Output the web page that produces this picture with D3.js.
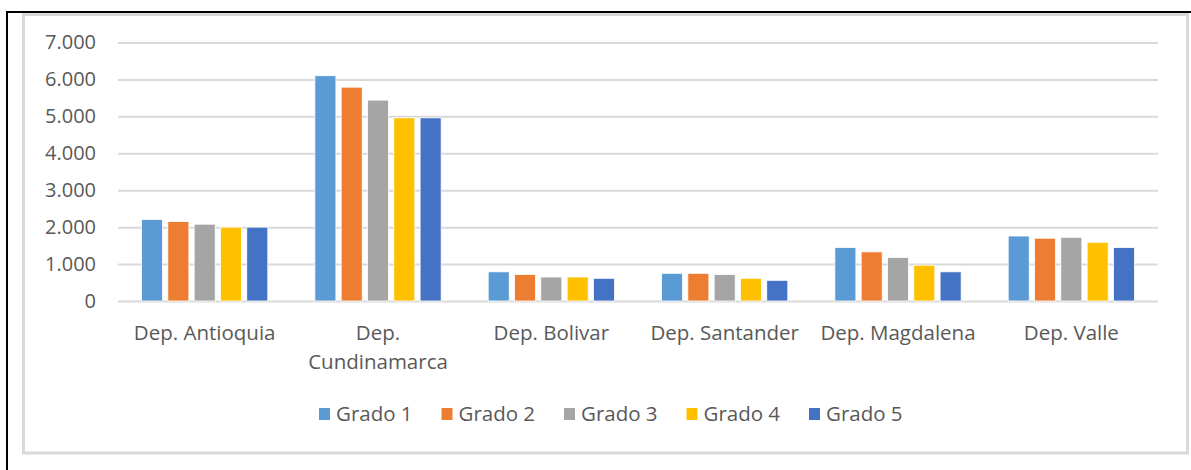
<!DOCTYPE html>
<html>
<head>
<meta charset="utf-8">
<script src="https://cdn.jsdelivr.net/npm/d3@7.9.0/dist/d3.min.js"></script>
<style>
  body { margin: 0; background: #fff; }
  svg { display: block; }
  text { font-family: "Open Sans", sans-serif; fill: #595959; }
</style>
</head>
<body>
<div id="chart"></div>
<script>
// departments and grade series
const departments = ['Dep. Antioquia', 'Dep. Cundinamarca', 'Dep. Bolivar', 'Dep. Santander', 'Dep. Magdalena', 'Dep. Valle'];
const grades = ['Grado 1', 'Grado 2', 'Grado 3', 'Grado 4', 'Grado 5'];
const grado1 = [2210, 6100, 790, 750, 1450, 1760];
const grado2 = [2150, 5790, 720, 750, 1330, 1700];
const grado3 = [2080, 5440, 650, 720, 1180, 1725];
const grado4 = [2000, 4960, 650, 615, 970, 1590];
const grado5 = [2000, 4960, 615, 560, 790, 1450];
const yTicks = [0, 1000, 2000, 3000, 4000, 5000, 6000, 7000];
const colors = ['#5B9BD5', '#ED7D31', '#A5A5A5', '#FFC000', '#4472C4'];

const seriesValues = [grado1, grado2, grado3, grado4, grado5];
const rows = departments.map((dep, i) => ({
  dep,
  values: grades.map((g, j) => ({ grade: g, value: seriesValues[j][i] }))
}));

const width = 1191, height = 470;
const plot = { left: 118, right: 1158, top: 42.5, bottom: 301 };

const svg = d3.select('#chart').append('svg')
  .attr('width', width)
  .attr('height', height);

// outer frame (black lines on top and left)
svg.append('line').attr('x1', 6).attr('x2', width).attr('y1', 12).attr('y2', 12)
  .attr('stroke', '#000').attr('stroke-width', 2);
svg.append('line').attr('x1', 7).attr('x2', 7).attr('y1', 11).attr('y2', height)
  .attr('stroke', '#000').attr('stroke-width', 2);

// chart area border
svg.append('rect')
  .attr('x', 23.5).attr('y', 14.5)
  .attr('width', 1187.5 - 23.5).attr('height', 453 - 14.5)
  .attr('fill', 'none').attr('stroke', '#D9D9D9').attr('stroke-width', 3);

const x0 = d3.scaleBand().domain(departments).range([plot.left, plot.right]).padding(0);
const groupW = x0.bandwidth();
const inner = 126.3;
const x1 = d3.scaleBand().domain(grades)
  .range([(groupW - inner) / 2, (groupW + inner) / 2])
  .paddingInner(0.2).paddingOuter(0);
const y = d3.scaleLinear().domain([0, 7000]).range([plot.bottom, plot.top]);
const color = d3.scaleOrdinal().domain(grades).range(colors);

// gridlines
svg.append('g')
  .attr('class', 'gridlines')
  .attr('transform', `translate(${plot.left},0)`)
  .call(d3.axisLeft(y).tickValues(yTicks).tickFormat('').tickSize(-(plot.right - plot.left)))
  .call(g => g.select('.domain').remove())
  .call(g => g.selectAll('line').attr('stroke', '#D9D9D9').attr('stroke-width', 2));

// y labels
const fmt = d => d === 0 ? '0' : d3.format(',')(d).replace(/,/g, '.');
svg.append('g')
  .attr('transform', 'translate(96,0)')
  .call(d3.axisLeft(y).tickValues(yTicks).tickFormat(fmt).tickSize(0).tickPadding(0))
  .call(g => g.select('.domain').remove())
  .call(g => g.selectAll('text')
    .style('font-family', '"Open Sans", sans-serif')
    .attr('font-size', 20).attr('fill', '#595959'));

// bars
const groups = svg.append('g').selectAll('g')
  .data(rows)
  .join('g')
  .attr('transform', d => `translate(${x0(d.dep)},0)`);

groups.selectAll('rect')
  .data(d => d.values)
  .join('rect')
  .attr('x', d => x1(d.grade))
  .attr('width', x1.bandwidth())
  .attr('y', d => y(d.value))
  .attr('height', d => y(0) - y(d.value))
  .attr('fill', d => color(d.grade))
  .attr('stroke', '#fff')
  .attr('stroke-width', 0.8);

// category labels (wrapped the way the picture shows)
const labelLines = d => d === 'Dep. Cundinamarca' ? ['Dep.', 'Cundinamarca'] : [d];
svg.append('g').selectAll('text')
  .data(departments)
  .join('text')
  .attr('x', d => x0(d) + groupW / 2)
  .attr('y', 340)
  .attr('text-anchor', 'middle')
  .attr('font-size', 20.5)
  .selectAll('tspan')
  .data(d => labelLines(d))
  .join('tspan')
  .attr('x', function () { return d3.select(this.parentNode).attr('x'); })
  .attr('dy', (d, i) => i === 0 ? 0 : 29)
  .text(d => d);

// legend
const legend = svg.append('g').selectAll('g')
  .data(grades)
  .join('g')
  .attr('transform', (d, i) => `translate(${319 + i * 122.5},408)`);
legend.append('rect')
  .attr('width', 11).attr('height', 12)
  .attr('fill', d => color(d));
legend.append('text')
  .attr('x', 17).attr('y', 13)
  .attr('font-size', 20.5)
  .text(d => d);
</script>
</body>
</html>
